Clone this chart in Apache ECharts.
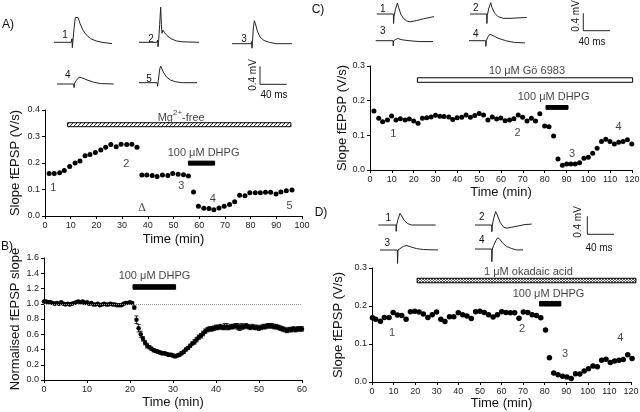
<!DOCTYPE html>
<html><head><meta charset="utf-8">
<script src="https://cdn.jsdelivr.net/npm/echarts@6/dist/echarts.min.js"></script>
<style>html,body{margin:0;padding:0;background:#fff}#c{width:640px;height:412px}</style>
</head><body><div id="c"></div><script>
// ---------------- DATA ----------------
// Panel A (Mg2+-free)
const aTime = [1.6,3.6,5.7,7.5,9.6,11.7,13.6,15.6,17.5,19.6,21.7,23.6,25.6,27.7,29.6,31.8,33.8,35.8,37.7,39.6,41.7,43.6,45.7,47.8,49.7,51.8,53.9,55.8,57.8,59.7,61.8,63.8,65.7,67.7,69.7,71.8,73.8,75.7,77.8,79.7,81.8,83.8,85.8,87.8,89.9,91.8,93.9,96.1];
const aSlope = [0.160,0.160,0.163,0.172,0.187,0.200,0.208,0.227,0.232,0.240,0.249,0.259,0.270,0.261,0.271,0.270,0.271,0.259,0.155,0.155,0.153,0.149,0.155,0.153,0.160,0.158,0.156,0.151,0.091,0.037,0.029,0.028,0.024,0.030,0.037,0.043,0.054,0.078,0.076,0.088,0.088,0.088,0.090,0.090,0.083,0.091,0.095,0.098];
const aMgBar = [8.8, 95.7, 0.337, 0.352];
const aDhpgBar = [55.8, 66.0, 0.192, 0.207];
const aNotes = [['1',3.2,0.107],['2',31.6,0.196],['3',53,0.112],['4',65.3,0.063],['5',95.2,0.037],['100 μM DHPG',61.7,0.236]];
const aMgNote = [['Mg|2+|-free',53,0.377]];
const aDelta = [['Δ',37.7,0.028]];

// Panel B (normalised, mean ± s.e.m.)
const bTime = [0,0.5,1,1.5,2,2.5,3,3.5,4,4.5,5,5.5,6,6.5,7,7.5,8,8.5,9,9.5,10,10.5,11,11.5,12,12.5,13,13.5,14,14.5,15,15.5,16,16.5,17,17.5,18,18.5,19,19.5,20,20.5,21,21.5,22,22.5,23,23.5,24,24.5,25,25.5,26,26.5,27,27.5,28,28.5,29,29.5,30,30.5,31,31.5,32,32.5,33,33.5,34,34.5,35,35.5,36,36.5,37,37.5,38,38.5,39,39.5,40,40.5,41,41.5,42,42.5,43,43.5,44,44.5,45,45.5,46,46.5,47,47.5,48,48.5,49,49.5,50,50.5,51,51.5,52,52.5,53,53.5,54,54.5,55,55.5,56,56.5,57,57.5,58,58.5,59,59.5,60];
const bSlope = [1.03,1.03,1.02,1.02,1.01,1.00,1.01,1.00,1.02,1.00,0.99,1.00,0.99,1.00,1.01,1.02,1.03,1.02,1.03,1.01,1.02,1.00,1.01,0.99,0.99,1.00,0.98,0.99,1.00,0.99,0.99,1.00,0.99,0.99,0.98,0.98,0.98,1.00,1.01,1.01,1.02,
1.01,0.95,0.79,0.68,0.60,0.54,0.49,0.45,0.43,0.41,0.39,0.38,0.37,0.36,0.35,0.35,0.34,0.33,0.33,0.32,0.31,0.32,0.33,0.35,0.37,0.40,0.42,0.45,0.48,0.50,0.53,0.56,0.58,0.61,0.64,0.66,0.67,0.67,0.68,0.69,0.69,0.70,0.69,0.70,0.70,0.69,0.70,0.70,0.71,0.70,0.69,0.70,0.70,0.71,0.70,0.69,0.70,0.69,0.69,0.68,0.69,0.70,0.70,0.71,0.71,0.71,0.70,0.70,0.69,0.68,0.67,0.66,0.65,0.66,0.66,0.67,0.66,0.67,0.67,0.67];
const bErr = [0.01,0.01,0.01,0.01,0.01,0.01,0.01,0.01,0.01,0.01,0.01,0.01,0.01,0.01,0.01,0.01,0.01,0.01,0.01,0.01,0.01,0.01,0.01,0.01,0.01,0.01,0.01,0.01,0.01,0.01,0.01,0.01,0.01,0.01,0.01,0.01,0.01,0.01,0.01,0.01,0.01,
0.01,0.02,0.05,0.05,0.04,0.03,0.03,0.03,0.02,0.02,0.02,0.02,0.02,0.02,0.02,0.02,0.02,0.02,0.02,0.02,0.02,0.02,0.02,0.02,0.02,0.02,0.02,0.02,0.02,0.03,0.03,0.03,0.03,0.03,0.03,0.03,0.03,0.03,0.03,0.03,0.03,0.03,0.03,0.04,0.04,0.03,0.03,0.03,0.03,0.04,0.04,0.04,0.03,0.03,0.03,0.03,0.03,0.03,0.03,0.03,0.03,0.03,0.03,0.03,0.03,0.03,0.03,0.03,0.03,0.03,0.03,0.03,0.03,0.03,0.03,0.03,0.03,0.03,0.03,0.03];
const bDhpgBar = [20.7, 30.6, 1.19, 1.25];
const bNotes = [['100 μM DHPG',25.7,1.36]];

// Panel C (Gö 6983)
const cTime = [1.8,4.0,5.8,8.0,9.9,11.9,13.9,16.1,18.0,20.0,22.0,24.0,26.0,28.0,30.0,32.0,33.9,36.1,37.9,39.9,42.0,44.0,46.0,48.0,50.0,52.0,54.0,56.0,58.0,59.9,61.9,63.9,65.9,67.9,69.9,71.9,73.9,75.8,77.8,80.0,82.0,84.1,86.1,88.1,90.1,92.0,94.0,96.0,98.0,100.0,102.0,104.0,106.0,108.0,109.9,111.9,113.9,115.9,117.9,119.9];
const cSlope = [0.170,0.149,0.139,0.144,0.156,0.144,0.148,0.144,0.147,0.141,0.135,0.149,0.151,0.153,0.158,0.155,0.154,0.153,0.146,0.151,0.152,0.159,0.152,0.157,0.163,0.159,0.144,0.153,0.147,0.150,0.142,0.144,0.148,0.159,0.152,0.141,0.149,0.141,0.162,0.127,0.125,0.098,0.032,0.014,0.017,0.017,0.017,0.021,0.034,0.037,0.048,0.063,0.082,0.089,0.082,0.075,0.080,0.082,0.087,0.075];
const cGoBar = [21.7, 120.3, 0.253, 0.266];
const cDhpgBar = [80.6, 90.7, 0.175, 0.186];
const cNotes = [['1',10.7,0.103],['2',67.6,0.108],['3',92.5,0.045],['4',113.9,0.123],['10 μM Gö 6983',71.9,0.286],['100 μM DHPG',84.1,0.210]];

// Panel D (okadaic acid)
const dTime = [0.2,1.7,3.9,5.7,7.9,9.8,11.8,13.8,15.8,17.8,19.8,21.8,23.8,25.9,27.9,29.9,31.9,33.8,35.9,37.9,40.0,42.0,44.0,46.0,48.0,50.0,52.0,54.0,56.1,58.1,60.1,62.1,64.1,66.1,68.1,70.1,72.2,74.2,76.2,78.2,80.4,82.2,84.2,86.2,88.3,90.3,92.3,94.3,96.3,98.3,100.3,102.4,104.4,106.4,108.4,110.4,112.4,114.4,116.4,118.5,120.5];
const dSlope = [0.169,0.165,0.160,0.170,0.170,0.183,0.176,0.175,0.165,0.185,0.186,0.184,0.179,0.170,0.177,0.184,0.165,0.159,0.172,0.172,0.182,0.177,0.174,0.167,0.185,0.186,0.183,0.177,0.171,0.177,0.185,0.183,0.182,0.182,0.168,0.184,0.183,0.177,0.175,0.169,0.137,0.064,0.024,0.019,0.015,0.013,0.009,0.022,0.021,0.029,0.035,0.042,0.040,0.057,0.060,0.051,0.055,0.057,0.059,0.072,0.062];
const dOkaBar = [20.9, 122.3, 0.261, 0.273];
const dDhpgBar = [77.6, 87.5, 0.200, 0.212];
const dNotes = [['1',9.3,0.130],['2',69.5,0.139],['3',89.5,0.073],['4',115,0.115],['1 μM okadaic acid',72.5,0.289],['100 μM DHPG',81.8,0.231]];

// Example fEPSP traces: [ms, mV relative to baseline]
const traceA1 = [[0,0],[26,0],[27,0.08],[27.5,-0.12],[28.5,0.05],[30,0.3],[32,0.55],[34,0.59],[36,0.55],[39,0.42],[43,0.28],[48,0.17],[55,0.08],[63,0.03],[72,0],[87,-0.03]];
const traceA2 = [[0,0],[27,0],[28,0.05],[28.5,-0.1],[29.5,0.05],[31,0.4],[32.5,0.78],[33.5,0.4],[34.5,0.2],[36,0.27],[38,0.22],[42,0.15],[48,0.08],[56,0.03],[66,0.01],[90,0]];
const traceA3 = [[0,0],[29,0],[29.5,0.05],[30,-0.1],[30.8,0.05],[32,0.35],[33.5,0.51],[35,0.45],[38,0.28],[42,0.15],[48,0.07],[56,0.03],[66,0],[90,0]];
const traceA4 = [[0,0],[25,0],[25.5,-0.08],[26.5,0.02],[29,0.08],[33,0.15],[37,0.14],[45,0.09],[55,0.04],[65,0.01],[85,0]];
const traceA5 = [[0,0],[27,0],[27.5,0.04],[28,-0.08],[29,0.05],[31,0.3],[32.5,0.37],[34,0.33],[37,0.22],[41,0.13],[47,0.06],[55,0.02],[65,0],[87,0]];
const traceC1 = [[0,0],[25,0],[25.3,-0.22],[26,-0.05],[28,0.1],[31,0.25],[33,0.15],[36,0.0],[40,-0.1],[45,-0.16],[50,-0.18],[60,-0.15],[70,-0.11],[80,-0.08],[86,-0.06]];
const traceC2 = [[0,0],[25,0],[25.3,-0.22],[26,-0.03],[28,0.12],[31,0.26],[33,0.15],[37,0.02],[42,-0.06],[50,-0.1],[60,-0.1],[72,-0.09],[85,-0.08]];
const traceC3 = [[0,0],[26,0],[26.3,-0.12],[27,0],[30,0.03],[33,0.05],[40,0.02],[50,0],[65,-0.02],[86,-0.02]];
const traceC4 = [[0,0],[25,0],[25.3,-0.13],[26,0],[28,0.08],[31.5,0.15],[34,0.13],[38,0.1],[45,0.05],[55,0],[68,-0.04],[84,-0.05]];
const traceD1 = [[0,0],[26.5,0],[26.8,-0.14],[27.5,0],[29.5,0.12],[32.5,0.26],[35,0.2],[39,0.1],[44,0.03],[50,0],[86,0]];
const traceD2 = [[0,0],[25,0],[25.3,-0.15],[26,0],[28,0.15],[31,0.3],[34,0.2],[38,0.05],[43,-0.05],[48,-0.07],[55,-0.05],[65,-0.02],[75,0.01],[85,0.02]];
const traceD3 = [[0,0],[26,0],[26.3,-0.3],[27,0],[30,0.03],[35,0.08],[40,0.1],[46,0.07],[55,0.03],[65,0.01],[87,0]];
const traceD4 = [[0,0],[25,0],[25.3,-0.28],[26,0],[28,0.08],[31,0.18],[34,0.25],[37,0.22],[41,0.14],[47,0.06],[55,0.01],[62,-0.02],[72,-0.02]];
const scaleBar = [[0,0.4],[0,0],[40,0]]; // 0.4 mV, 40 ms

// ---------------- LAYOUT / STYLE ----------------
const FONT = 'Liberation Sans, Arial, Helvetica, sans-serif';
const PX_PER_MS = 0.667;
const grids = [], xAxes = [], yAxes = [], series = [];

function makePattern(kind){
  const c = document.createElement('canvas');
  const s = kind === 'diag' ? 4 : 3;
  c.width = s; c.height = s;
  const g = c.getContext('2d');
  g.fillStyle = '#fff'; g.fillRect(0,0,s,s);
  if (kind === 'diag') {
    g.strokeStyle = '#333'; g.lineWidth = 1;
    g.beginPath();
    g.moveTo(-1, s+1); g.lineTo(s+1, -1);
    g.moveTo(-1, 1); g.lineTo(1, -1);
    g.moveTo(s-1, s+1); g.lineTo(s+1, s-1);
    g.stroke();
  } else {
    g.fillStyle = '#555';
    g.fillRect(0,0,1,1); g.fillRect(2,0,1,1); g.fillRect(1,1,1,1); g.fillRect(0,2,1,1); g.fillRect(2,2,1,1);
  }
  return {image: c, repeat: 'repeat'};
}

function mainPanel(box, xCfg, yCfg, xGap, yGap, yName){
  grids.push(Object.assign({outerBoundsMode:'none', containLabel:false}, box));
  const i = grids.length - 1;
  const axisLine = {show:true, lineStyle:{color:'#000', width:1}};
  const axisTick = {show:true, length:3, lineStyle:{color:'#000', width:1}};
  xAxes.push(Object.assign({gridIndex:i, type:'value', name:'Time (min)', nameLocation:'middle', nameGap:xGap,
    nameTextStyle:{fontSize:13, color:'#111', fontFamily:FONT},
    axisLine, axisTick, splitLine:{show:false},
    axisLabel:{fontSize:9, color:'#222', margin:5, fontFamily:FONT}}, xCfg));
  yAxes.push(Object.assign({gridIndex:i, type:'value', name:yName, nameLocation:'middle', nameGap:yGap,
    nameTextStyle:{fontSize:13, color:'#111', fontFamily:FONT},
    axisLine, axisTick, splitLine:{show:false},
    axisLabel:{fontSize:9, color:'#222', margin:5, fontFamily:FONT, formatter: v => v.toFixed(1)}}, yCfg));
  return i;
}

function traceGrid(left, baseY, pxPerMV, data, width){
  grids.push({outerBoundsMode:'none', containLabel:false, left:left, top:baseY - pxPerMV, width:100*PX_PER_MS, height:2*pxPerMV});
  const i = grids.length - 1;
  xAxes.push({gridIndex:i, type:'value', min:0, max:100, show:false});
  yAxes.push({gridIndex:i, type:'value', min:-1, max:1, show:false});
  series.push({type:'line', xAxisIndex:i, yAxisIndex:i, data:data, showSymbol:false, symbol:'none', clip:false,
    lineStyle:{color:'#222', width:width || 1}, animation:false, silent:true});
}

function zip(xs, ys){ return xs.map((x, k) => [x, ys[k]]); }

function scatter(i, xs, ys, size){
  series.push({type:'scatter', xAxisIndex:i, yAxisIndex:i, data:zip(xs, ys), symbolSize:size, clip:false,
    itemStyle:{color:'#000', opacity:1}, silent:true});
}

function notes(i, arr, extra){
  series.push({type:'scatter', xAxisIndex:i, yAxisIndex:i, symbolSize:1, clip:false, silent:true,
    itemStyle:{color:'rgba(0,0,0,0)'},
    data: arr.map(n => ({name:n[0], value:[n[1], n[2]]})),
    label:Object.assign({show:true, position:'inside', formatter: p => p.name, fontSize:11, color:'#111', fontFamily:FONT}, extra || {})});
}

function bar(i, b, fill){
  series.push({type:'custom', xAxisIndex:i, yAxisIndex:i, clip:false, silent:true, data:[b],
    encode:{x:[0,1], y:[2,3]},
    renderItem(params, api){
      const p0 = api.coord([api.value(0), api.value(3)]);
      const p1 = api.coord([api.value(1), api.value(2)]);
      return {type:'rect', shape:{x:p0[0], y:p0[1], width:p1[0]-p0[0], height:p1[1]-p0[1]},
        style:{fill:fill, stroke:'#000', lineWidth:1}};
    }});
}

// Panel A
const iA = mainPanel({left:45, top:110, width:257, height:106},
  {min:0, max:100, interval:10}, {min:0, max:0.4, interval:0.1}, 17, 23, 'Slope fEPSP (V/s)');
bar(iA, aMgBar, makePattern('diag'));
bar(iA, aDhpgBar, '#000');
scatter(iA, aTime, aSlope, 5);
notes(iA, aNotes);
notes(iA, aMgNote, {formatter: p => { const s = p.name.split('|'); return '{n|' + s[0] + '}{s|' + s[1] + '}{n|' + s[2] + '}'; },
  rich:{n:{fontSize:11, color:'#111', fontFamily:FONT, verticalAlign:'bottom', lineHeight:14},
        s:{fontSize:8, color:'#111', fontFamily:FONT, verticalAlign:'top', lineHeight:14}}});
notes(iA, aDelta, {fontFamily:'DejaVu Serif, serif', fontSize:11});

// Panel B
const iB = mainPanel({left:44, top:258, width:258, height:122},
  {min:0, max:60, interval:10}, {min:0, max:1.6, interval:0.2}, 16, 22, 'Normalised fEPSP slope');
bar(iB, bDhpgBar, '#000');
series.push({type:'custom', xAxisIndex:iB, yAxisIndex:iB, silent:true, clip:false,
  data: bTime.map((t, k) => [t, bSlope[k], bErr[k]]), encode:{x:0, y:1},
  renderItem(params, api){
    const x = api.value(0), y = api.value(1), e = api.value(2);
    const t = api.coord([x, y + e]), b = api.coord([x, y - e]);
    const st = {stroke:'#000', lineWidth:0.8};
    return {type:'group', children:[
      {type:'line', shape:{x1:t[0], y1:t[1], x2:b[0], y2:b[1]}, style:st},
      {type:'line', shape:{x1:t[0]-2, y1:t[1], x2:t[0]+2, y2:t[1]}, style:st},
      {type:'line', shape:{x1:b[0]-2, y1:b[1], x2:b[0]+2, y2:b[1]}, style:st}
    ]};
  }});
series.push({type:'scatter', xAxisIndex:iB, yAxisIndex:iB, data:zip(bTime, bSlope), symbolSize:4.5, clip:false,
  itemStyle:{color:'#000', opacity:1}, silent:true,
  markLine:{silent:true, symbol:'none', label:{show:false}, lineStyle:{type:'dotted', color:'#999', width:1},
    data:[{yAxis:1.0}]}});
notes(iB, bNotes);

// Panel C
const iC = mainPanel({left:370, top:66, width:262, height:104},
  {min:0, max:120, interval:10}, {min:0, max:0.3, interval:0.1}, 16, 21, 'Slope fEPSP (V/s)');
bar(iC, cGoBar, '#fff');
bar(iC, cDhpgBar, '#000');
scatter(iC, cTime, cSlope, 5);
notes(iC, cNotes);

// Panel D
const iD = mainPanel({left:372, top:268, width:259, height:114},
  {min:0, max:120, interval:10}, {min:0, max:0.3, interval:0.1}, 15, 27, 'Slope fEPSP (V/s)');
bar(iD, dOkaBar, makePattern('cross'));
bar(iD, dDhpgBar, '#000');
scatter(iD, dTime, dSlope, 5.5);
notes(iD, dNotes);

// Traces
traceGrid(54, 42.3, 45, traceA1);
traceGrid(139, 42.3, 45, traceA2);
traceGrid(232, 43.7, 45, traceA3);
traceGrid(57, 84, 45, traceA4);
traceGrid(139, 82.7, 45, traceA5);
traceGrid(260, 84.3, 45, scaleBar);
traceGrid(376.7, 14, 43.5, traceC1);
traceGrid(470, 14, 43.5, traceC2);
traceGrid(375.7, 40.7, 43.5, traceC3);
traceGrid(469, 40.7, 43.5, traceC4);
traceGrid(583.3, 30.7, 43.5, scaleBar);
traceGrid(378.3, 225, 45, traceD1);
traceGrid(475, 225, 45, traceD2);
traceGrid(380, 250, 45, traceD3);
traceGrid(475, 249, 45, traceD4);
traceGrid(587.3, 234.3, 45, scaleBar);

// Text annotations (panel letters, trace numbers, scale labels)
function txt(str, x, y, size, rot){
  return {type:'text', x:x, y:y, rotation:rot || 0, silent:true,
    style:{text:str, fontSize:size, fontFamily:FONT, fill:'#111', align:'center', verticalAlign:'middle'}};
}
const graphic = [
  txt('A)', 8, 25, 12), txt('B)', 7, 247, 12), txt('C)', 318, 10, 12), txt('D)', 321, 213, 12),
  txt('1', 65, 35, 10), txt('2', 151, 39, 10), txt('3', 244, 39, 10), txt('4', 67.7, 75.3, 10), txt('5', 149, 79.3, 10),
  txt('0.4 mV', 253, 75, 10, Math.PI/2), txt('40 ms', 274, 95, 10),
  txt('1', 382.7, 9.3, 10), txt('2', 475.7, 8.3, 10), txt('3', 382.7, 31.7, 10), txt('4', 475.7, 34.7, 10),
  txt('0.4 mV', 576.7, 16, 10, Math.PI/2), txt('40 ms', 592, 42.7, 10),
  txt('1', 388.3, 218.3, 10), txt('2', 481.7, 217.3, 10), txt('3', 387.3, 243.3, 10), txt('4', 481.7, 240.7, 10),
  txt('0.4 mV', 578.3, 222, 10, Math.PI/2), txt('40 ms', 599, 248, 10)
];

const chart = echarts.init(document.getElementById('c'), null, {renderer:'canvas'});
chart.setOption({animation:false, backgroundColor:'#fff', textStyle:{fontFamily:FONT},
  grid:grids, xAxis:xAxes, yAxis:yAxes, series:series, graphic:graphic});
</script></body></html>
